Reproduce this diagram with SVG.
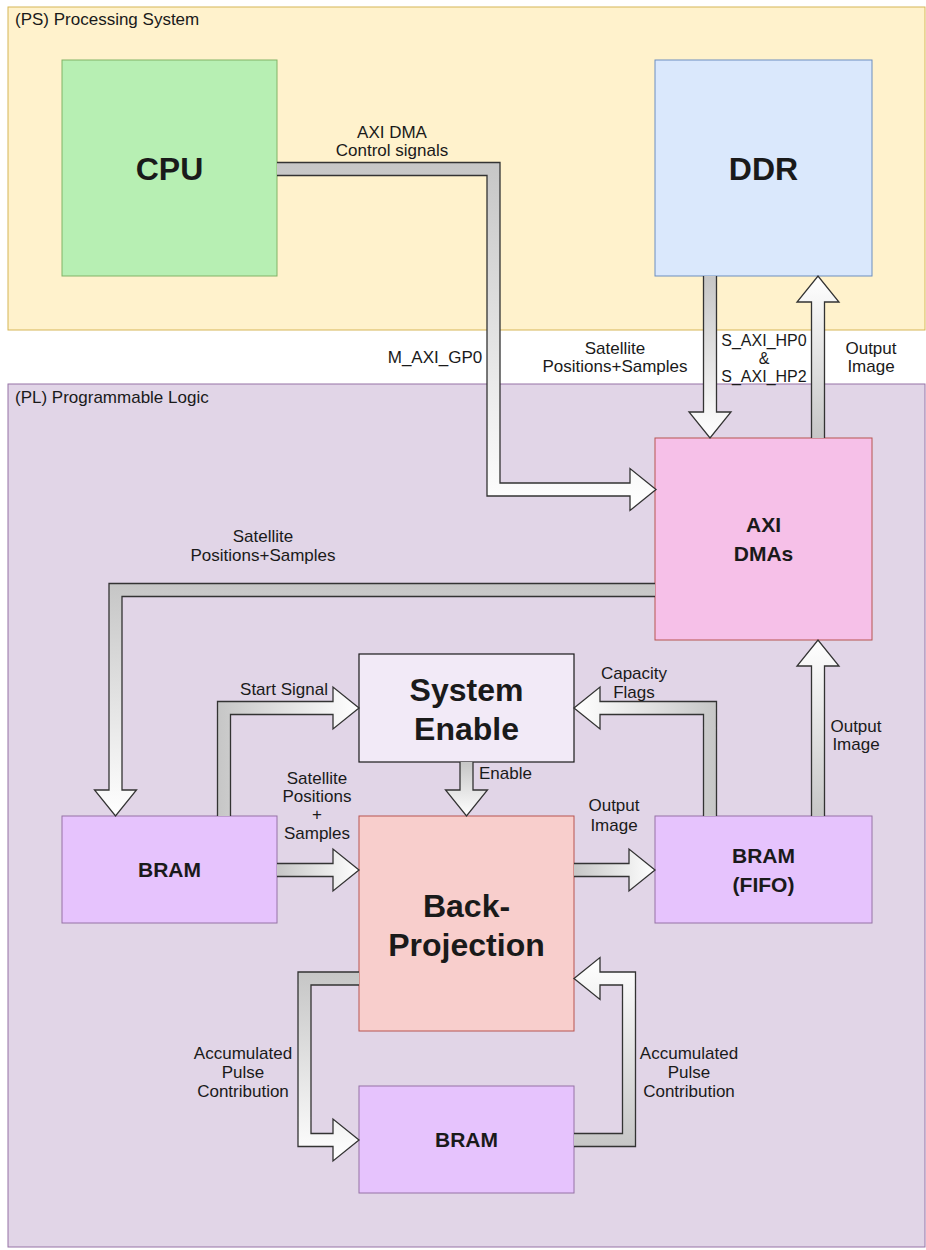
<svg xmlns="http://www.w3.org/2000/svg" width="926" height="1250" viewBox="0 0 926 1250">
  <style>
    text { font-family: "Liberation Sans", Arial, Helvetica, sans-serif; fill: #1a1a1a; }
    .lbl { font-size: 17px; text-anchor: middle; }
    .lbl-s { font-size: 16px; text-anchor: middle; }
    .lbl-l { font-size: 17px; text-anchor: start; }
    .region { font-size: 17px; }
    .big { font-size: 32px; font-weight: bold; text-anchor: middle; }
    .mid { font-size: 21px; font-weight: bold; text-anchor: middle; }
    .arrow { stroke: #333333; stroke-width: 1.3; stroke-linejoin: miter; }
  </style>
  <defs>
    <linearGradient id="gDown" x1="0" y1="0" x2="0" y2="1">
      <stop offset="0" stop-color="#c6c6c6"/>
      <stop offset="1" stop-color="#ffffff"/>
    </linearGradient>
    <linearGradient id="gUp" x1="0" y1="1" x2="0" y2="0">
      <stop offset="0" stop-color="#c6c6c6"/>
      <stop offset="1" stop-color="#ffffff"/>
    </linearGradient>
    <linearGradient id="gRight" x1="0" y1="0" x2="1" y2="0">
      <stop offset="0" stop-color="#c6c6c6"/>
      <stop offset="1" stop-color="#ffffff"/>
    </linearGradient>
    <linearGradient id="gLeft" x1="1" y1="0" x2="0" y2="0">
      <stop offset="0" stop-color="#c6c6c6"/>
      <stop offset="1" stop-color="#ffffff"/>
    </linearGradient>
  </defs>

  <!-- Regions -->
  <g id="ps-region">
    <rect x="8" y="7" width="917" height="323" fill="#fff2cc" stroke="#d6b656" stroke-width="1"/>
    <text class="region" x="15" y="25">(PS) Processing System</text>
  </g>
  <g id="pl-region">
    <rect x="8" y="384" width="917" height="863" fill="#e1d5e7" stroke="#9673a6" stroke-width="1"/>
    <text class="region" x="15" y="403">(PL) Programmable Logic</text>
  </g>

  <!-- Blocks -->
  <g id="cpu">
    <rect x="62" y="60" width="215" height="216" fill="#b7efb3" stroke="#82b366" stroke-width="1"/>
    <text class="big" x="169.5" y="180">CPU</text>
  </g>
  <g id="ddr">
    <rect x="655" y="60" width="217" height="216" fill="#dae8fc" stroke="#6c8ebf" stroke-width="1"/>
    <text class="big" x="763.5" y="180">DDR</text>
  </g>
  <g id="axi-dmas">
    <rect x="655" y="438" width="217" height="202" fill="#f6c0e8" stroke="#b85450" stroke-width="1"/>
    <text class="mid" x="763.5" y="532">AXI</text>
    <text class="mid" x="763.5" y="561">DMAs</text>
  </g>
  <g id="system-enable">
    <rect x="359" y="654" width="215" height="108" fill="#f2eaf7" stroke="#1a1a1a" stroke-width="1.2"/>
    <text class="big" x="466.5" y="701">System</text>
    <text class="big" x="466.5" y="740">Enable</text>
  </g>
  <g id="bram-in">
    <rect x="62" y="816" width="215" height="107" fill="#e6c3fd" stroke="#9673a6" stroke-width="1"/>
    <text class="mid" x="169.5" y="877">BRAM</text>
  </g>
  <g id="back-projection">
    <rect x="359" y="816" width="215" height="215" fill="#f8cecc" stroke="#b85450" stroke-width="1"/>
    <text class="big" x="466.5" y="917">Back-</text>
    <text class="big" x="466.5" y="956">Projection</text>
  </g>
  <g id="bram-fifo">
    <rect x="655" y="816" width="217" height="107" fill="#e6c3fd" stroke="#9673a6" stroke-width="1"/>
    <text class="mid" x="763.5" y="863">BRAM</text>
    <text class="mid" x="763.5" y="892">(FIFO)</text>
  </g>
  <g id="bram-acc">
    <rect x="359" y="1086" width="215" height="107" fill="#e6c3fd" stroke="#9673a6" stroke-width="1"/>
    <text class="mid" x="466.5" y="1147">BRAM</text>
  </g>

  <!-- Connectors (flat block arrows) -->
  <g id="connectors">
    <!-- CPU to AXI DMAs (M_AXI_GP0) -->
    <path class="arrow" fill="url(#gDown)" d="M277,162.5 L500,162.5 L500,483 L630,483 L630,468.5 L656,489.5 L630,510.5 L630,496 L487,496 L487,175.5 L277,175.5"/>
    <!-- DDR to AXI DMAs -->
    <path class="arrow" fill="url(#gDown)" d="M703.5,276 L703.5,412 L689,412 L710,438 L731,412 L716.5,412 L716.5,276"/>
    <!-- AXI DMAs to DDR -->
    <path class="arrow" fill="url(#gUp)" d="M811.5,438 L811.5,302 L797,302 L818,276 L839,302 L824.5,302 L824.5,438"/>
    <!-- AXI DMAs to input BRAM -->
    <path class="arrow" fill="url(#gDown)" d="M655,583.5 L109,583.5 L109,790 L94.5,790 L115.5,816 L136.5,790 L122,790 L122,596.5 L655,596.5"/>
    <!-- Start Signal -->
    <path class="arrow" fill="url(#gRight)" d="M217.5,816 L217.5,701.5 L333,701.5 L333,687 L359,708 L333,729 L333,714.5 L230.5,714.5 L230.5,816"/>
    <!-- Enable -->
    <path class="arrow" fill="url(#gDown)" d="M460,762 L460,790 L445.5,790 L466.5,816 L487.5,790 L473,790 L473,762"/>
    <!-- Capacity Flags -->
    <path class="arrow" fill="url(#gLeft)" d="M716.5,816 L716.5,701.5 L600,701.5 L600,687 L574,708 L600,729 L600,714.5 L703.5,714.5 L703.5,816"/>
    <!-- Input BRAM to Back-Projection -->
    <path class="arrow" fill="url(#gRight)" d="M277,863.5 L333,863.5 L333,849 L359,870 L333,891 L333,876.5 L277,876.5"/>
    <!-- Back-Projection to FIFO -->
    <path class="arrow" fill="url(#gRight)" d="M574,863.5 L629,863.5 L629,849 L655,870 L629,891 L629,876.5 L574,876.5"/>
    <!-- FIFO to AXI DMAs -->
    <path class="arrow" fill="url(#gUp)" d="M811.5,816 L811.5,666 L797,666 L818,640 L839,666 L824.5,666 L824.5,816"/>
    <!-- Back-Projection to accumulator BRAM -->
    <path class="arrow" fill="url(#gDown)" d="M359,972 L298,972 L298,1146.5 L333,1146.5 L333,1161 L359,1140 L333,1119 L333,1133.5 L311,1133.5 L311,985 L359,985"/>
    <!-- Accumulator BRAM to Back-Projection -->
    <path class="arrow" fill="url(#gUp)" d="M574,1146.5 L635.5,1146.5 L635.5,972 L600,972 L600,957.5 L574,978.5 L600,999.5 L600,985 L622.5,985 L622.5,1133.5 L574,1133.5"/>
  </g>

  <!-- Connector labels -->
  <g id="connector-labels">
    <text class="lbl" x="392" y="138">AXI DMA</text>
    <text class="lbl" x="392" y="156">Control signals</text>
    <text class="lbl" x="435" y="363">M_AXI_GP0</text>
    <text class="lbl" x="615" y="354">Satellite</text>
    <text class="lbl" x="615" y="372">Positions+Samples</text>
    <text class="lbl-s" x="764" y="346">S_AXI_HP0</text>
    <text class="lbl-s" x="764" y="364">&amp;</text>
    <text class="lbl-s" x="764" y="382">S_AXI_HP2</text>
    <text class="lbl" x="871" y="354">Output</text>
    <text class="lbl" x="871" y="372">Image</text>
    <text class="lbl" x="263" y="542">Satellite</text>
    <text class="lbl" x="263" y="561">Positions+Samples</text>
    <text class="lbl" x="284" y="695">Start Signal</text>
    <text class="lbl" x="317" y="784">Satellite</text>
    <text class="lbl" x="317" y="802">Positions</text>
    <text class="lbl" x="317" y="820">+</text>
    <text class="lbl" x="317" y="839">Samples</text>
    <text class="lbl-l" x="479" y="779">Enable</text>
    <text class="lbl" x="634" y="679">Capacity</text>
    <text class="lbl" x="634" y="698">Flags</text>
    <text class="lbl" x="614" y="811">Output</text>
    <text class="lbl" x="614" y="831">Image</text>
    <text class="lbl" x="856" y="732">Output</text>
    <text class="lbl" x="856" y="750">Image</text>
    <text class="lbl" x="243" y="1059">Accumulated</text>
    <text class="lbl" x="243" y="1078">Pulse</text>
    <text class="lbl" x="243" y="1097">Contribution</text>
    <text class="lbl" x="689" y="1059">Accumulated</text>
    <text class="lbl" x="689" y="1078">Pulse</text>
    <text class="lbl" x="689" y="1097">Contribution</text>
  </g>
</svg>
